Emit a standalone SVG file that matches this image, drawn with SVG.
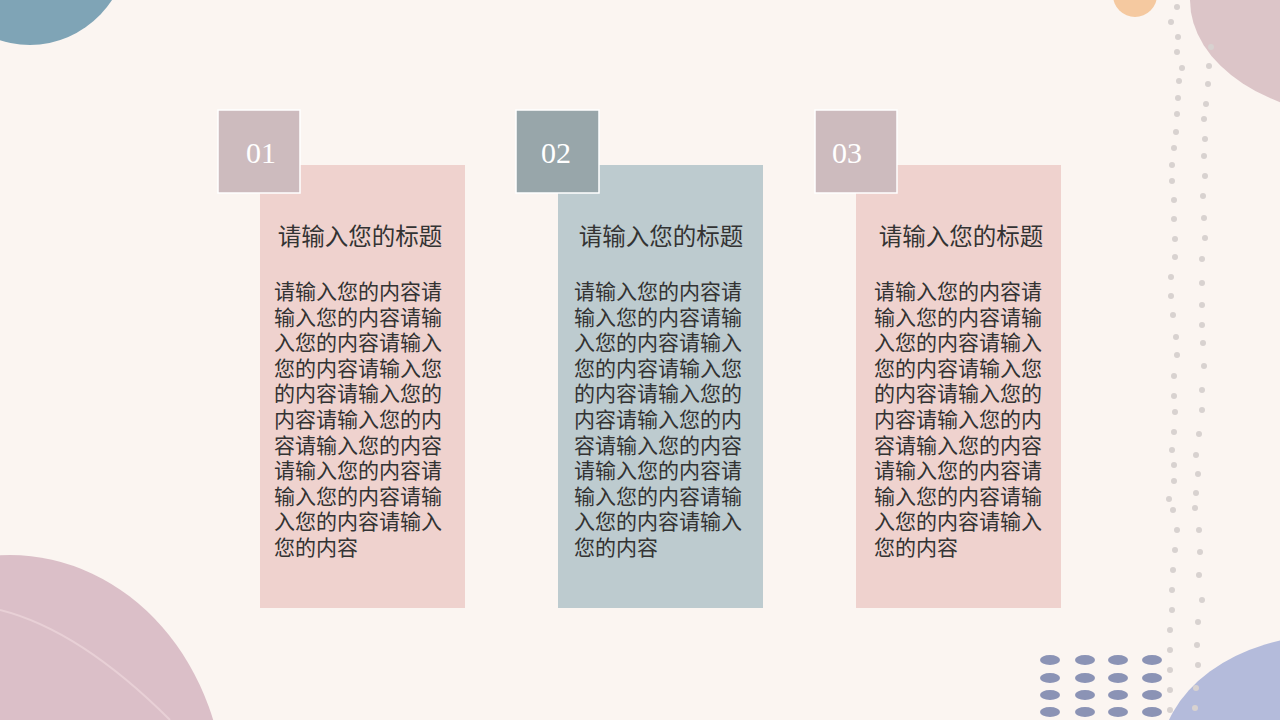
<svg xmlns="http://www.w3.org/2000/svg" width="1280" height="720" viewBox="0 0 1280 720">
<defs><style>
.num{font-family:"Liberation Serif",serif;font-size:30px;fill:#fff;text-anchor:middle}
.tt{font-family:"Noto Sans CJK SC",sans-serif;font-size:23.5px;fill:#333;text-anchor:middle}
.bd{font-family:"Noto Sans CJK SC",sans-serif;font-size:21px;fill:#333}
.box{stroke:#fff;stroke-width:1.5}
.gd{fill:#d8d2d0}
.bl{fill:#8b93b5}
</style></defs>
<rect width="1280" height="720" fill="#fbf5f1"/>
<g id="deco">
<ellipse cx="30" cy="-60" rx="100" ry="105" fill="#7fa4b6"/>
<circle cx="1135" cy="-5" r="22" fill="#f5c9a0"/>
<ellipse cx="1370" cy="0" rx="180" ry="118" fill="#dcc5c8"/>
<ellipse cx="10" cy="800" rx="215" ry="245" fill="#dbbfc8"/>
<path d="M0 610 Q80 630 170 720" fill="none" stroke="#e8d0d6" stroke-width="2"/>
<ellipse cx="1330" cy="760" rx="170" ry="125" fill="#b4bbdb"/>
<g class="gd">
<circle cx="1177" cy="7" r="3"/><circle cx="1171" cy="22" r="3"/><circle cx="1178" cy="37" r="3"/><circle cx="1177" cy="52" r="3"/><circle cx="1182" cy="68" r="3"/><circle cx="1179" cy="81" r="3"/><circle cx="1178" cy="98" r="3"/><circle cx="1177" cy="114" r="3"/><circle cx="1176" cy="132" r="3"/><circle cx="1174" cy="148" r="3"/><circle cx="1172" cy="165" r="3"/><circle cx="1172" cy="181" r="3"/><circle cx="1174" cy="200" r="3"/><circle cx="1174" cy="219" r="3"/><circle cx="1175" cy="239" r="3"/><circle cx="1175" cy="257" r="3"/><circle cx="1171" cy="277" r="3"/><circle cx="1171" cy="296" r="3"/><circle cx="1173" cy="315" r="3"/><circle cx="1176" cy="337" r="3"/><circle cx="1177" cy="355" r="3"/><circle cx="1174" cy="376" r="3"/><circle cx="1174" cy="396" r="3"/><circle cx="1175" cy="412" r="3"/><circle cx="1174" cy="432" r="3"/><circle cx="1172" cy="450" r="3"/><circle cx="1174" cy="465" r="3"/><circle cx="1174" cy="481" r="3"/><circle cx="1169" cy="499" r="3"/><circle cx="1173" cy="510" r="3"/>
<circle cx="1211" cy="47" r="3"/><circle cx="1209" cy="66" r="3"/><circle cx="1208" cy="84" r="3"/><circle cx="1206" cy="104" r="3"/><circle cx="1204" cy="119" r="3"/><circle cx="1205" cy="139" r="3"/><circle cx="1204" cy="156" r="3"/><circle cx="1205" cy="176" r="3"/><circle cx="1203" cy="196" r="3"/><circle cx="1204" cy="218" r="3"/><circle cx="1205" cy="238" r="3"/><circle cx="1202" cy="259" r="3"/><circle cx="1202" cy="283" r="3"/><circle cx="1202" cy="305" r="3"/><circle cx="1202" cy="325" r="3"/><circle cx="1203" cy="343" r="3"/><circle cx="1204" cy="366" r="3"/><circle cx="1202" cy="390" r="3"/><circle cx="1202" cy="410" r="3"/><circle cx="1199" cy="434" r="3"/><circle cx="1196" cy="455" r="3"/><circle cx="1198" cy="474" r="3"/><circle cx="1196" cy="493" r="3"/><circle cx="1195" cy="508" r="3"/>
<circle cx="1177" cy="530" r="3"/><circle cx="1175" cy="550" r="3"/><circle cx="1173" cy="570" r="3"/><circle cx="1172" cy="590" r="3"/><circle cx="1172" cy="610" r="3"/><circle cx="1170" cy="630" r="3"/><circle cx="1170" cy="650" r="3"/><circle cx="1170" cy="670" r="3"/><circle cx="1170" cy="690" r="3"/><circle cx="1170" cy="710" r="3"/>
<circle cx="1199" cy="530" r="3"/><circle cx="1200" cy="552" r="3"/><circle cx="1199" cy="575" r="3"/><circle cx="1202" cy="600" r="3"/><circle cx="1198" cy="622" r="3"/><circle cx="1197" cy="645" r="3"/><circle cx="1198" cy="665" r="3"/><circle cx="1196" cy="688" r="3"/><circle cx="1195" cy="708" r="3"/>
</g>
<g class="bl">
<ellipse cx="1050" cy="660" rx="10" ry="5"/><ellipse cx="1085" cy="660" rx="10" ry="5"/><ellipse cx="1118" cy="660" rx="10" ry="5"/><ellipse cx="1152" cy="660" rx="10" ry="5"/>
<ellipse cx="1050" cy="678" rx="10" ry="5"/><ellipse cx="1085" cy="678" rx="10" ry="5"/><ellipse cx="1118" cy="678" rx="10" ry="5"/><ellipse cx="1152" cy="678" rx="10" ry="5"/>
<ellipse cx="1050" cy="695" rx="10" ry="5"/><ellipse cx="1085" cy="695" rx="10" ry="5"/><ellipse cx="1118" cy="695" rx="10" ry="5"/><ellipse cx="1152" cy="695" rx="10" ry="5"/>
<ellipse cx="1050" cy="712" rx="10" ry="5"/><ellipse cx="1085" cy="712" rx="10" ry="5"/><ellipse cx="1118" cy="712" rx="10" ry="5"/><ellipse cx="1152" cy="712" rx="10" ry="5"/>
</g>
</g>
<defs>
<g id="body">
<text class="bd"><tspan x="0" y="0">请输入您的内容请</tspan><tspan x="0" dy="25.6">输入您的内容请输</tspan><tspan x="0" dy="25.6">入您的内容请输入</tspan><tspan x="0" dy="25.6">您的内容请输入您</tspan><tspan x="0" dy="25.6">的内容请输入您的</tspan><tspan x="0" dy="25.6">内容请输入您的内</tspan><tspan x="0" dy="25.6">容请输入您的内容</tspan><tspan x="0" dy="25.6">请输入您的内容请</tspan><tspan x="0" dy="25.6">输入您的内容请输</tspan><tspan x="0" dy="25.6">入您的内容请输入</tspan><tspan x="0" dy="25.6">您的内容</tspan></text>
</g>
</defs>
<g id="card1">
<rect x="260" y="165" width="205" height="443" fill="#efd2ce"/>
<rect class="box" x="218" y="110" width="82" height="83" fill="#cdbbbe"/>
<text class="num" x="261" y="163">01</text>
<text class="tt" x="360" y="245">请输入您的标题</text>
<use href="#body" x="274" y="299"/>
</g>
<g id="card2">
<rect x="558" y="165" width="205" height="443" fill="#bdcbcf"/>
<rect class="box" x="516" y="110" width="83" height="83" fill="#98a6aa"/>
<text class="num" x="556" y="163">02</text>
<text class="tt" x="661" y="245">请输入您的标题</text>
<use href="#body" x="574" y="299"/>
</g>
<g id="card3">
<rect x="856" y="165" width="205" height="443" fill="#efd2ce"/>
<rect class="box" x="815" y="110" width="82" height="83" fill="#cdbbbe"/>
<text class="num" x="847" y="163">03</text>
<text class="tt" x="961" y="245">请输入您的标题</text>
<use href="#body" x="874" y="299"/>
</g>
<g id="connectors"/>
</svg>
